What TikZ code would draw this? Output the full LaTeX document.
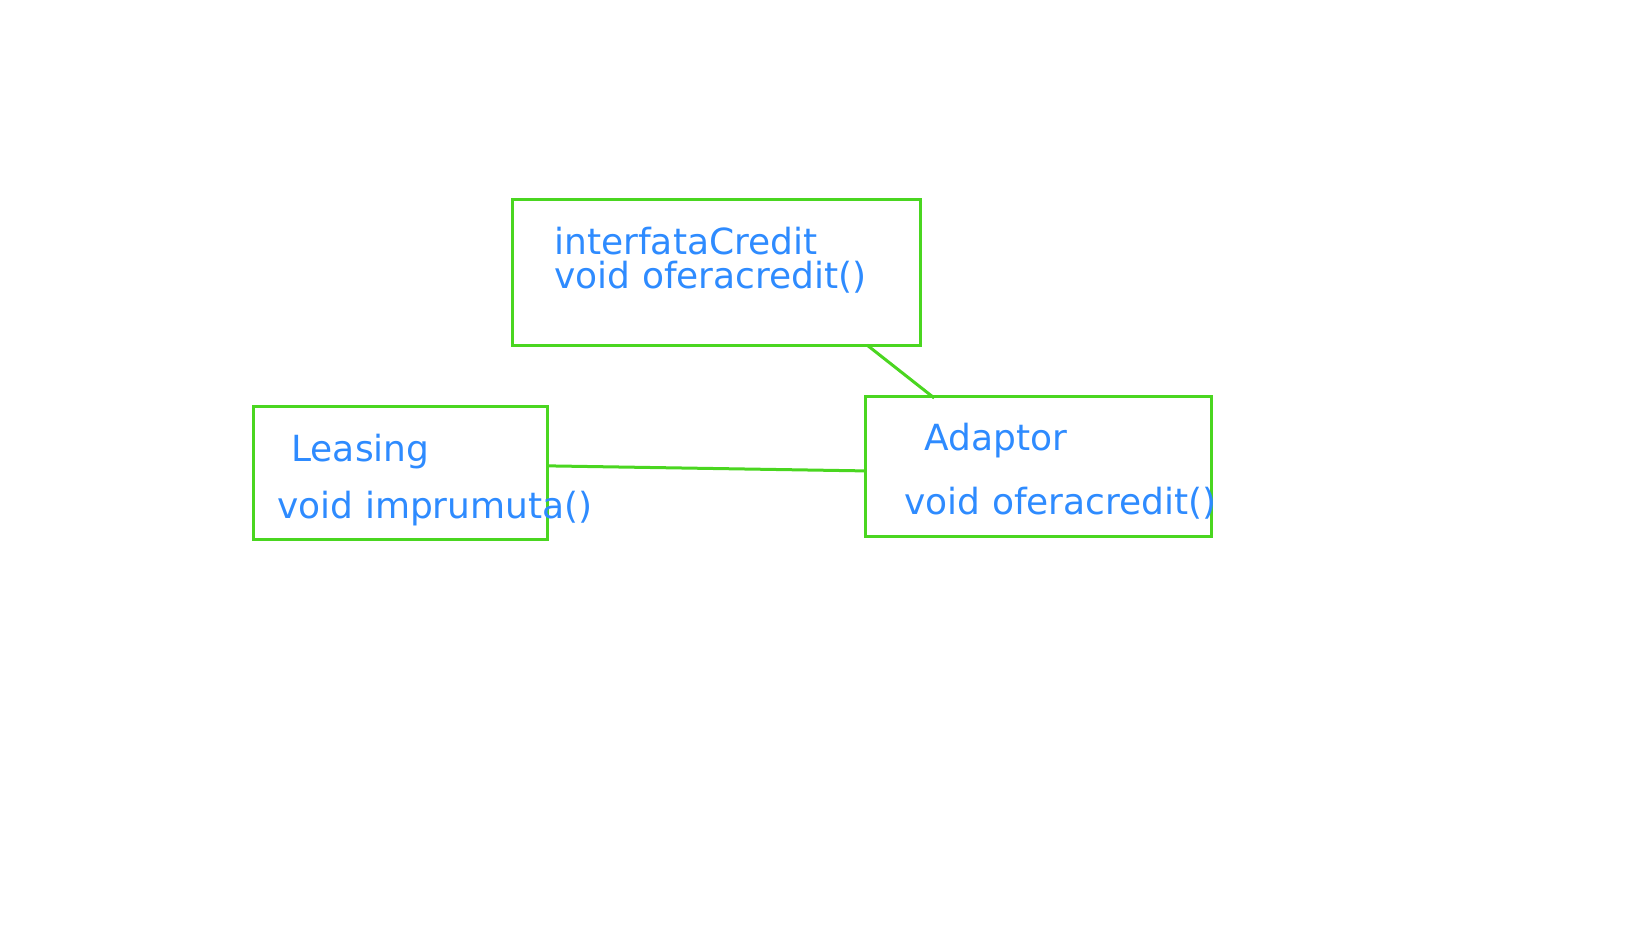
\documentclass[tikz,border=0pt]{standalone}
\usepackage{fontspec}
\setmainfont{DejaVu Sans}
\usetikzlibrary{positioning}
\usetikzlibrary{calc}

\definecolor{boxgreen}{RGB}{74,214,32}
\definecolor{textblue}{RGB}{46,139,255}

\begin{document}
\begin{tikzpicture}[
    x = 0.5pt, y = -0.5pt,
    classbox/.style = {
      draw = boxgreen, line width = 1.5pt,
      rectangle, anchor = north west,
      inner sep = 0pt, outer sep = 0pt,
    },
    label/.style = {
      text = textblue, anchor = base west,
      inner sep = 0pt,
      font = \fontsize{18}{18}\selectfont,
    },
    link/.style = {boxgreen, line width = 1.5pt},
  ]

  \useasboundingbox (0,0) rectangle (1648,927);

  % the three classes
  \node[classbox, minimum width = 204pt, minimum height = 73pt]
    (iface) at (512,199) {};
  \node[classbox, minimum width = 147pt, minimum height = 66.5pt]
    (leasing) at (253,406) {};
  \node[classbox, minimum width = 173pt, minimum height = 70pt]
    (adaptor) at (865,396) {};

  \node[label] (ifacename) at (554,254) {interfataCredit};
  \node[label] (ifaceop) at (554,288) {void oferacredit()};

  \node[label] (leasingname) at (291,461) {Leasing};
  \node[label] (leasingop) at (277,518) {void imprumuta()};

  \node[label] (adaptorname) at (924,450) {Adaptor};
  \node[label] (adaptorop) at (904,514) {void oferacredit()};

  % links
  \draw[link]
    ($(iface.south west)!0.87!(iface.south east)$) --
    ($(adaptor.north west)!0.2!(adaptor.north east) + (0,2)$);
  \draw[link]
    ($(leasing.north east)!0.45!(leasing.south east)$) --
    ($(adaptor.north west)!0.535!(adaptor.south west)$);
\end{tikzpicture}
\end{document}
